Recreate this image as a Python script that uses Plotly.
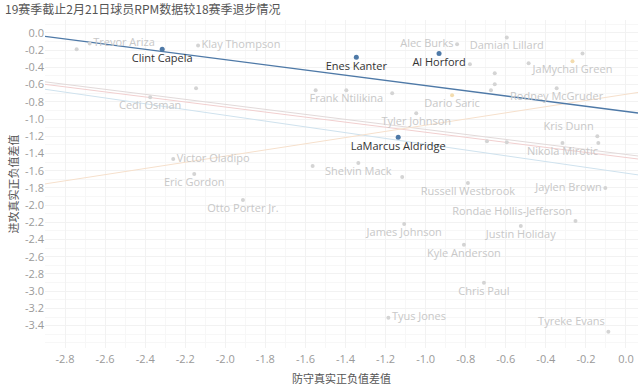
import plotly.graph_objects as go

# ---------------- data ----------------
players = [
    "Trevor Ariza", "", "Clint Capela", "Klay Thompson", "", "Cedi Osman", "",
    "Frank Ntilikina", "Enes Kanter", "Alec Burks", "Al Horford", "",
    "Damian Lillard", "", "", "", "", "", "JaMychal Green", "Rodney McGruder",
    "", "Dario Saric", "Tyler Johnson", "Kris Dunn", "", "Nikola Mirotic",
    "LaMarcus Aldridge", "", "", "Shelvin Mack", "", "", "Russell Westbrook",
    "Jaylen Brown", "Rondae Hollis-Jefferson", "Justin Holiday", "James Johnson",
    "Kyle Anderson", "Chris Paul", "Tyus Jones", "Tyreke Evans", "Victor Oladipo",
    "Eric Gordon", "Otto Porter Jr.",
]
def_diff = [
    -2.677, -2.742, -2.315, -2.136, -2.146, -2.375, -1.549,
    -1.396, -1.346, -0.843, -0.933, -0.779,
    -0.595, -0.655, -0.655, -0.674, -0.486, -0.217, -0.267, -0.346,
    -1.167, -0.868, -1.047, -0.143, -0.138, -0.317,
    -1.137, -0.694, -0.595, -1.336, -1.117, -1.564, -0.789,
    -0.103, -0.252, -0.525, -1.107,
    -0.809, -0.709, -1.186, -0.088, -2.260,
    -2.155, -1.912,
]
off_diff = [
    -0.122, -0.191, -0.191, -0.145, -0.643, -0.747, -0.666,
    -0.666, -0.284, -0.133, -0.238, -0.365,
    -0.052, -0.469, -0.597, -0.666, -0.353, -0.238, -0.330, -0.643,
    -0.701, -0.724, -0.933, -1.199, -1.280, -1.280,
    -1.211, -1.257, -1.269, -1.512, -1.674, -1.547, -1.744,
    -1.802, -2.184, -2.242, -2.219,
    -2.462, -2.903, -3.308, -3.470, -1.466,
    -1.640, -1.941,
]
group = [
    "G", "G", "C", "G", "G", "G", "G",
    "G", "C", "G", "C", "G",
    "G", "G", "G", "G", "G", "G", "O", "G",
    "G", "O", "G", "G", "G", "G",
    "C", "G", "G", "G", "G", "G", "G",
    "G", "G", "G", "G",
    "G", "G", "G", "G", "G",
    "G", "G",
]
label_pos = [
    "middle right", "middle right", "bottom center", "middle right", "middle right",
    "bottom center", "middle right",
    "bottom center", "bottom center", "middle left", "bottom center", "middle right",
    "bottom center", "middle right", "middle right", "middle right", "middle right",
    "middle right", "bottom center", "bottom center",
    "middle right", "bottom center", "bottom center", "top left", "middle right",
    "bottom center",
    "bottom center", "middle right", "middle right", "bottom center", "middle right",
    "middle right", "bottom center",
    "middle left", "top left", "bottom center", "bottom center",
    "bottom center", "bottom center", "middle right", "top left", "middle right",
    "bottom center", "bottom center",
]

# trend lines (intercept, slope) per group
trend_names = ["C", "O", "G", "R", "B"]
trend_intercept = [-0.913, -0.713, -1.412, -1.447, -1.629]
trend_slope = [-0.301, 0.359, -0.291, -0.293, -0.336]
trend_colors = ["#4e79a7", "#f6e0cc", "#e2dada", "#f1cfcf", "#cfe2ee"]
trend_widths = [1.4, 1.0, 1.0, 1.0, 1.0]

x_range = [-2.9, 0.06]
y_range = [-3.66, 0.15]
x_tickvals = [-2.8, -2.6, -2.4, -2.2, -2.0, -1.8, -1.6, -1.4, -1.2, -1.0,
              -0.8, -0.6, -0.4, -0.2, 0.0]
x_ticktext = ["-2.8", "-2.6", "-2.4", "-2.2", "-2.0", "-1.8", "-1.6", "-1.4",
              "-1.2", "-1.0", "-0.8", "-0.6", "-0.4", "-0.2", "0.0"]
y_tickvals = [0.0, -0.2, -0.4, -0.6, -0.8, -1.0, -1.2, -1.4, -1.6, -1.8,
              -2.0, -2.2, -2.4, -2.6, -2.8, -3.0, -3.2, -3.4]
y_ticktext = ["0.0", "-0.2", "-0.4", "-0.6", "-0.8", "-1.0", "-1.2", "-1.4",
              "-1.6", "-1.8", "-2.0", "-2.2", "-2.4", "-2.6", "-2.8", "-3.0",
              "-3.2", "-3.4"]

title_text = "19赛季截止2月21日球员RPM数据较18赛季退步情况"
x_title = "防守真实正负值差值"
y_title = "进攻真实正负值差值"

# ---------------- figure ----------------
point_colors = {"C": "#4e79a7", "O": "#f3dcae", "G": "#d4d4d4"}
label_colors = {"C": "#333333", "O": "#c8c8c8", "G": "#c8c8c8"}

fig = go.Figure()

order = [2, 3, 4, 1, 0]
for i in order:
    xs = [x_range[0], x_range[1]]
    ys = [trend_intercept[i] + trend_slope[i] * v for v in xs]
    fig.add_trace(go.Scatter(
        x=xs, y=ys, mode="lines",
        line=dict(color=trend_colors[i], width=trend_widths[i]),
        hoverinfo="skip", showlegend=False,
    ))

for g in ["G", "O", "C"]:
    idx = [k for k, gg in enumerate(group) if gg == g]
    fig.add_trace(go.Scatter(
        x=[def_diff[k] for k in idx],
        y=[off_diff[k] for k in idx],
        text=[players[k] for k in idx],
        textposition=[label_pos[k] for k in idx],
        mode="markers+text",
        marker=dict(color=point_colors[g], size=5 if g == "C" else 4),
        textfont=dict(family="Open Sans, sans-serif", size=11,
                      color=label_colors[g]),
        showlegend=False,
    ))

fig.update_layout(
    width=640, height=389,
    margin=dict(l=45, r=2, t=20, b=41, autoexpand=False),
    paper_bgcolor="white", plot_bgcolor="white",
    title=dict(text=title_text, x=5 / 640, xref="container", xanchor="left",
               y=1 - 10 / 389, yref="container", yanchor="middle",
               automargin=False,
               font=dict(family="Noto Sans CJK SC", size=12, color="#555555")),
    font=dict(family="Open Sans, sans-serif"),
)
fig.update_xaxes(
    range=x_range, tickvals=x_tickvals, ticktext=x_ticktext,
    tickfont=dict(size=11, color="#9a9a9a"),
    showgrid=True, gridcolor="#f2f2f2", zeroline=False, showline=False,
    minor=dict(dtick=0.1, showgrid=True, gridcolor="#f7f7f7"),
    title=dict(text=x_title, standoff=10,
               font=dict(family="Noto Sans CJK SC", size=11, color="#555555")),
    ticklabelstandoff=3, automargin=False,
)
fig.update_yaxes(
    range=y_range, tickvals=y_tickvals, ticktext=y_ticktext,
    tickfont=dict(size=11, color="#9a9a9a"),
    showgrid=True, gridcolor="#f2f2f2", zeroline=False, showline=False,
    minor=dict(dtick=0.1, showgrid=True, gridcolor="#f7f7f7"),
    title=dict(text=y_title, standoff=4,
               font=dict(family="Noto Sans CJK SC", size=11, color="#555555")),
    automargin=False,
)

fig.write_html(
    "out.html",
    config={"displayModeBar": False},
    post_script="document.body.style.margin='0px';document.body.style.overflow='hidden';",
)
